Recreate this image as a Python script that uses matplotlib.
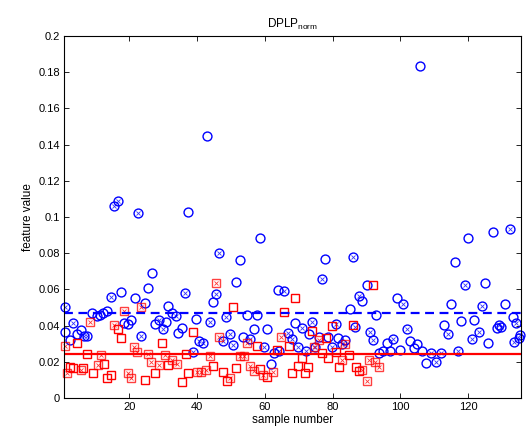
import matplotlib
matplotlib.use("Agg")
import matplotlib.pyplot as plt

plt.rcParams['font.family'] = ['Liberation Sans', 'DejaVu Sans']
plt.rcParams['mathtext.fontset'] = 'custom'
plt.rcParams['mathtext.rm'] = 'Liberation Sans'
plt.rcParams['mathtext.it'] = 'Liberation Sans'

# class 1 (blue circles), plain markers
blue_x = [1, 2.5, 4.4, 5.6, 9, 10.4, 11.4, 12.3, 13.3, 17.5, 18.3, 19.7, 20.5, 21.6,
          24.7, 25.5, 26.7, 27.6, 30.7, 31.4, 32.5, 34.5, 35.6, 37.4, 39.7, 42.8,
          44.6, 51.5, 52.8, 53.6, 54.6, 56.9, 57.8, 58.7, 60.6, 61.9, 62.7, 63.8,
          68.8, 72.9, 75.9, 77.7, 78.7, 81.7, 83.6, 85, 88.7, 90, 92.8, 93.7, 95,
          96, 97, 99, 100, 102.7, 104, 105, 105.8, 106.5, 107.7, 113, 115, 116,
          118, 120, 121.8, 125, 126, 127.3, 128.4, 130.8, 133.3]
blue_y = [0.0367, 0.032, 0.0352, 0.0376, 0.0472, 0.0453, 0.0459, 0.047, 0.0483, 0.0586,
          0.0416, 0.0409, 0.0433, 0.055, 0.0523, 0.0606, 0.0689, 0.0409, 0.0422,
          0.0508, 0.047, 0.0357, 0.0388, 0.103, 0.0435, 0.145, 0.0532, 0.0643,
          0.0762, 0.0337, 0.0456, 0.038, 0.0456, 0.0882, 0.038, 0.0188, 0.025,
          0.0597, 0.0413, 0.0355, 0.0339, 0.0766, 0.0339, 0.033, 0.032, 0.049,
          0.0538, 0.0624, 0.0458, 0.0247, 0.0258, 0.0306, 0.0258, 0.0551, 0.0267,
          0.0314, 0.0274, 0.0298, 0.1836, 0.0261, 0.0192, 0.0403, 0.0519, 0.0753,
          0.0427, 0.0882, 0.0431, 0.0637, 0.0302, 0.0919, 0.0385, 0.0519, 0.0446]

# class 1, crossed markers
blue_xx = [1, 3.3, 6.6, 7.5, 14.5, 15.5, 16.5, 22.5, 23.4, 28.7, 29.8, 33.9, 36.5,
           38.8, 40.7, 41.6, 43.7, 45.6, 46.5, 47.7, 48.6, 49.6, 50.7, 55.5, 59.7,
           64.1, 65.6, 66.9, 67.9, 69.8, 71, 72, 73.8, 74.7, 76.9, 79.7, 80.9, 82.9,
           86, 86.7, 87.8, 91, 91.8, 97.9, 100.9, 101.9, 109, 110.5, 112, 114.1,
           116.9, 119.2, 121, 123.2, 124.1, 129, 129.8, 132.3, 133.6, 134, 135.1,
           135.4]
blue_yx = [0.0505, 0.0413, 0.0345, 0.0345, 0.0556, 0.106, 0.109, 0.1024, 0.0345,
           0.0433, 0.0383, 0.0451, 0.0578, 0.0256, 0.0315, 0.0306, 0.0422, 0.0575,
           0.0803, 0.0317, 0.0445, 0.0354, 0.0293, 0.0327, 0.028, 0.0261, 0.059,
           0.0358, 0.0327, 0.0281, 0.0385, 0.0258, 0.0422, 0.0284, 0.0656, 0.0284,
           0.0409, 0.03, 0.0779, 0.0394, 0.0566, 0.0364, 0.032, 0.0327, 0.0518,
           0.038, 0.0247, 0.020, 0.025, 0.0354, 0.0261, 0.0624, 0.0326, 0.0367,
           0.0508, 0.0403, 0.039, 0.0934, 0.0311, 0.0413, 0.033, 0.0348]

# class 2 (red squares), plain markers
red_x = [2.4, 3.4, 4.4, 6.3, 7.5, 9.4, 12.5, 13.5, 14.5, 16.5, 17.5, 24.7, 27.6,
         29.6, 31.5, 35.6, 36.7, 37.4, 38.7, 44.6, 47.7, 48.7, 50.6, 51.5, 57.8,
         58.7, 60.7, 63.7, 65.6, 67, 67.9, 68.8, 69.9, 70.9, 71.8, 72.8, 73.8, 76.8,
         77.9, 78.7, 79.7, 81, 82, 84.9, 85.9, 86.8, 87.8, 91.8]
red_y = [0.0172, 0.0166, 0.0304, 0.0166, 0.0245, 0.0136, 0.0186, 0.0113, 0.0125,
         0.038, 0.033, 0.0099, 0.0138, 0.0302, 0.0184, 0.0088, 0.0243, 0.0138,
         0.0367, 0.0175, 0.0146, 0.0096, 0.0501, 0.0164, 0.0287, 0.0161, 0.0118,
         0.0265, 0.0476, 0.029, 0.0136, 0.0551, 0.0177, 0.0219, 0.0136, 0.017,
         0.0372, 0.0247, 0.0332, 0.0219, 0.0398, 0.0253, 0.017, 0.0235, 0.0403,
         0.0172, 0.0151, 0.0624]

# class 2, crossed markers
red_xx = [1, 1.5, 5.7, 8.4, 10.8, 11.6, 15.5, 18.3, 19.7, 20.4, 21.5, 22.3, 23.4,
          25.6, 26.5, 28.7, 30.6, 32.6, 34, 39.9, 41.2, 42.6, 43.8, 45.5, 46.5,
          49.6, 52.8, 53.7, 54.7, 55.5, 56.8, 59.5, 62.5, 64.7, 74.6, 76, 82.9,
          83.6, 88.7, 90, 90.8, 92.6, 93.7]
red_yx = [0.0287, 0.0136, 0.0153, 0.0422, 0.0185, 0.0236, 0.0402, 0.0482, 0.014,
          0.0109, 0.0284, 0.0253, 0.0505, 0.0245, 0.0198, 0.018, 0.0236, 0.021,
          0.019, 0.0145, 0.0146, 0.0155, 0.0233, 0.0637, 0.0339, 0.0109, 0.023,
          0.023, 0.0304, 0.0175, 0.015, 0.0127, 0.0146, 0.0339, 0.0282, 0.0318,
          0.021, 0.0298, 0.0155, 0.0093, 0.0212, 0.0199, 0.017]

blue_mean = 0.0467
red_mean = 0.0241

fig = plt.figure(figsize=(5.27, 4.38), dpi=100)
ax = fig.add_axes([0.1214, 0.0913, 0.8666, 0.8265])

ms_o = 6.4
ms_s = 6.0
ax.plot(blue_x, blue_y, 'o', mfc='none', mec='b', ms=ms_o, mew=1.0, clip_on=False)
ax.plot(blue_xx, blue_yx, 'o', mfc='none', mec='b', ms=ms_o, mew=1.0, clip_on=False)
ax.plot(blue_xx, blue_yx, 'x', color='b', ms=2.8, mew=0.6, alpha=0.8, clip_on=False)
ax.plot(red_x, red_y, 's', mfc='none', mec='r', ms=ms_s, mew=1.0, clip_on=False)
ax.plot(red_xx, red_yx, 's', mfc='none', mec='r', ms=ms_s, mew=1.0, alpha=0.75,
        clip_on=False)
ax.plot(red_xx, red_yx, 'x', color='r', ms=2.8, mew=0.6, alpha=0.8, clip_on=False)

ax.axhline(blue_mean, color='b', ls='--', lw=1.6, dashes=(4, 2.5))
ax.axhline(red_mean, color='r', ls='-', lw=1.6)

ax.set_xlim(0.7, 135.5)
ax.set_ylim(0, 0.2)
ax.set_xticks([20, 40, 60, 80, 100, 120])
ax.set_yticks([0, 0.02, 0.04, 0.06, 0.08, 0.1, 0.12, 0.14, 0.16, 0.18, 0.2])
ax.set_yticklabels(['0', '0.02', '0.04', '0.06', '0.08', '0.1', '0.12', '0.14',
                    '0.16', '0.18', '0.2'])
ax.tick_params(direction='in', top=True, right=True, length=3.5, width=0.6,
               labelsize=8, pad=3)
for s in ax.spines.values():
    s.set_linewidth(0.8)

ax.set_title(r'DPLP$_{\mathrm{norm}}$', fontsize=8.5, pad=6)
ax.set_xlabel('sample number', fontsize=8.5, labelpad=1)
ax.set_ylabel('feature value', fontsize=8.5, labelpad=3)

fig.savefig('out.png', dpi=100)
